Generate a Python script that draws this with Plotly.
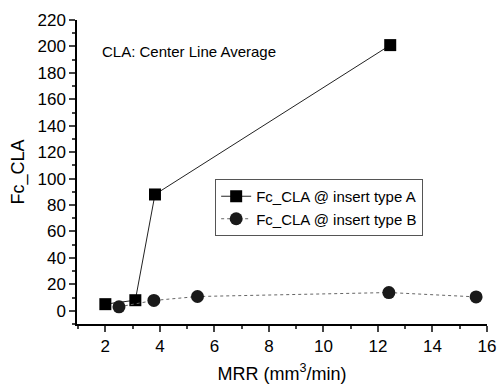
import plotly.graph_objects as go

mrr_a = [2.0, 3.1, 3.82, 12.45]
fc_a = [5, 8, 88, 201]
mrr_b = [2.5, 3.78, 5.38, 12.4, 15.6]
fc_b = [3, 7.8, 10.8, 13.8, 10.5]

fig = go.Figure()
fig.add_trace(go.Scatter(x=mrr_a, y=fc_a, mode="lines+markers", name="Fc_CLA @ insert type A",
                         line=dict(color="#222", width=1),
                         marker=dict(symbol="square", size=12, color="#000")))
fig.add_trace(go.Scatter(x=mrr_b, y=fc_b, mode="lines+markers", name="Fc_CLA @ insert type B",
                         line=dict(color="#666", width=1, dash="dot"),
                         marker=dict(symbol="circle", size=13, color="#1a1a1a")))

font = dict(family="Arial, Liberation Sans, sans-serif", size=17, color="#000")
fig.update_layout(
    width=498, height=384, margin=dict(l=77, r=11, t=20, b=60),
    plot_bgcolor="white", paper_bgcolor="white", font=font,
    showlegend=True,
    legend=dict(x=0.337, y=0.477, xanchor="left", yanchor="top", bordercolor="#555", borderwidth=1,
                bgcolor="white", font=dict(size=15), tracegroupgap=0, itemwidth=30),
    annotations=[dict(x=0.055, y=0.895, xref="paper", yref="paper", xanchor="left", yanchor="middle",
                      text="CLA: Center Line Average", showarrow=False, font=dict(size=15))],
)
fig.update_xaxes(range=[0.96, 16], tickvals=[2, 4, 6, 8, 10, 12, 14, 16], ticks="outside", ticklen=6,
                 tickwidth=1.5, showline=True, linecolor="#000", linewidth=1.5, showgrid=False, zeroline=False,
                 tickfont=dict(size=17), automargin=False,
                 minor=dict(ticks="outside", ticklen=3, tickwidth=1.5, dtick=1, tick0=0),
                 title=dict(text="MRR (mm<sup>3</sup>/min)", standoff=16, font=dict(size=18)))
fig.update_yaxes(range=[-10, 220], tickvals=list(range(0, 221, 20)), ticks="outside", ticklen=6,
                 tickwidth=1.5, showline=True, linecolor="#000", linewidth=1.5, showgrid=False, zeroline=False,
                 tickfont=dict(size=17), automargin=False,
                 minor=dict(ticks="outside", ticklen=3, tickwidth=1.5, dtick=10, tick0=0),
                 title=dict(text="Fc_CLA", standoff=8, font=dict(size=18)))
fig.write_html("out.html")
